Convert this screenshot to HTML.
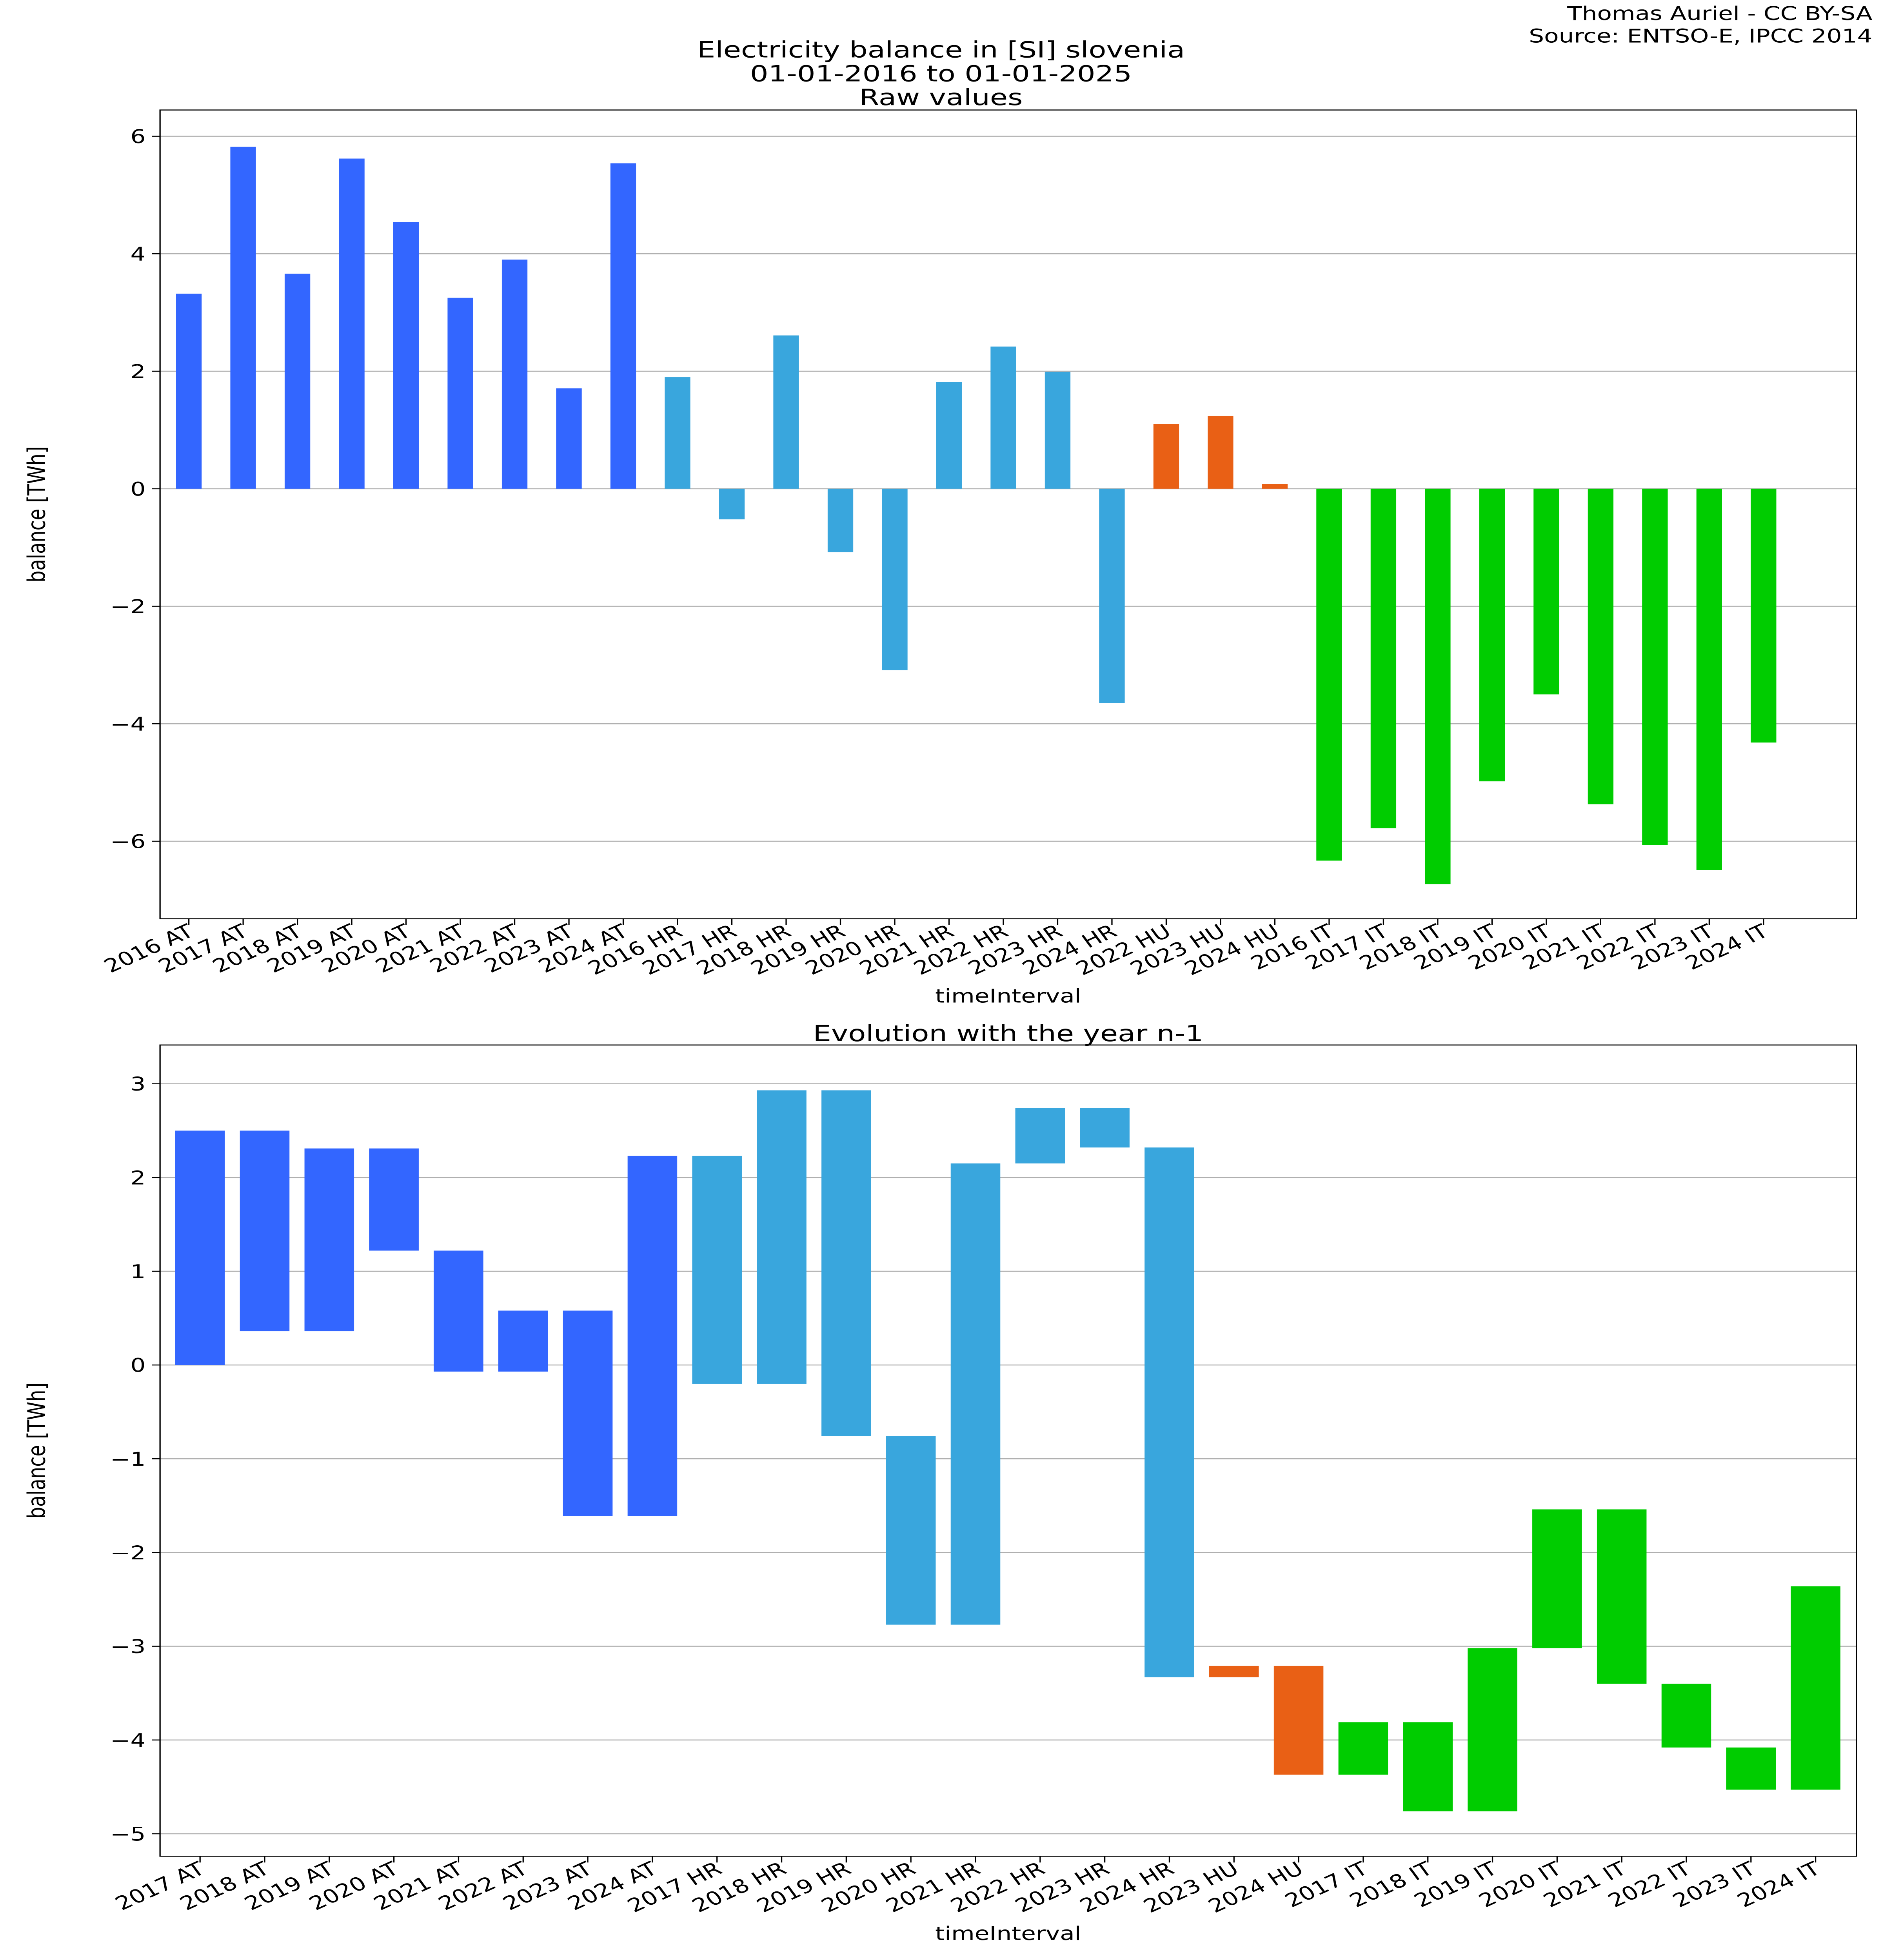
<!DOCTYPE html>
<html><head><meta charset="utf-8"><style>
html,body{margin:0;padding:0;background:#fff;width:100vw;height:100vh;overflow:hidden;}
svg{display:block;width:100vw;height:100vh;font-family:"DejaVu Sans","Liberation Sans",sans-serif;}
</style></head><body>
<svg id="chart" viewBox="0 0 1176 1568" preserveAspectRatio="none" xmlns="http://www.w3.org/2000/svg">
<rect width="1176" height="1568" fill="#fff"/>
<text x="1170" y="16" text-anchor="end" font-size="15">Thomas Auriel - CC BY-SA</text>
<text x="1170" y="34" text-anchor="end" font-size="15">Source: ENTSO-E, IPCC 2014</text>
<text x="588" y="46" text-anchor="middle" font-size="18">Electricity balance in [SI] slovenia</text>
<text x="588" y="65" text-anchor="middle" font-size="18">01-01-2016 to 01-01-2025</text>
<text x="588" y="84" text-anchor="middle" font-size="18">Raw values</text>
<text x="630" y="833" text-anchor="middle" font-size="18">Evolution with the year n-1</text>
<g id="top"></g>
<g id="bottom"></g>
</svg>
<script>
const topCategories=["2016 AT","2017 AT","2018 AT","2019 AT","2020 AT","2021 AT","2022 AT","2023 AT","2024 AT","2016 HR","2017 HR","2018 HR","2019 HR","2020 HR","2021 HR","2022 HR","2023 HR","2024 HR","2022 HU","2023 HU","2024 HU","2016 IT","2017 IT","2018 IT","2019 IT","2020 IT","2021 IT","2022 IT","2023 IT","2024 IT"];
const topValues=[3.32,5.82,3.66,5.62,4.54,3.25,3.90,1.71,5.54,1.90,-0.52,2.61,-1.08,-3.09,1.82,2.42,1.99,-3.65,1.10,1.24,0.08,-6.33,-5.78,-6.73,-4.98,-3.50,-5.37,-6.06,-6.49,-4.32];
const topTicks=[-6,-4,-2,0,2,4,6];
const botCategories=["2017 AT","2018 AT","2019 AT","2020 AT","2021 AT","2022 AT","2023 AT","2024 AT","2017 HR","2018 HR","2019 HR","2020 HR","2021 HR","2022 HR","2023 HR","2024 HR","2023 HU","2024 HU","2017 IT","2018 IT","2019 IT","2020 IT","2021 IT","2022 IT","2023 IT","2024 IT"];
const botStart=[0,0.36,0.36,1.22,-0.07,-0.07,-1.61,-1.61,-0.2,-0.2,-0.76,-2.77,-2.77,2.15,2.32,-3.33,-3.33,-4.37,-4.37,-4.76,-4.76,-3.02,-3.40,-4.08,-4.53,-4.53];
const botEnd=[2.5,2.5,2.31,2.31,1.22,0.58,0.58,2.23,2.23,2.93,2.93,-0.76,2.15,2.74,2.74,2.32,-3.21,-3.21,-3.81,-3.81,-3.02,-1.54,-1.54,-3.40,-4.08,-2.36];
const botTicks=[-5,-4,-3,-2,-1,0,1,2,3];
const colors={AT:"#3366ff",HR:"#39a6dd",HU:"#e96015",IT:"#00cc00"};
const NS="http://www.w3.org/2000/svg";
function mk(p,t,a){const e=document.createElementNS(NS,t);for(const k in a)e.setAttribute(k,a[k]);p.appendChild(e);return e;}
function panel(g,cfg){
  const {L,R,T,B,y0,k,x0,dx,bw,cats,ticks,lo,hi,name}=cfg;
  const yS=v=>y0-v*k, xS=i=>x0+i*dx;
  ticks.forEach(t=>{
    const gl=mk(g,'line',{x1:L,x2:R,y1:yS(t),y2:yS(t),stroke:'#b0b0b0','stroke-width':0.8});
    
    
    mk(g,'line',{x1:L-5,x2:L,y1:yS(t),y2:yS(t),stroke:'#000','stroke-width':0.8});
    const tl=mk(g,'text',{x:L-9,y:yS(t)+5.5,'text-anchor':'end','font-size':15});
    tl.textContent=(t<0?'\u2212'+(-t):t);
    
    
  });
  cats.forEach((c,i)=>{
    const a=Math.max(lo[i],hi[i]),b=Math.min(lo[i],hi[i]);
    const r=mk(g,'rect',{x:xS(i)-bw/2,y:yS(a),width:bw,height:Math.max(yS(b)-yS(a),0.5),fill:colors[c.split(' ')[1]]});
    
    
    mk(g,'line',{x1:xS(i),x2:xS(i),y1:B,y2:B+5,stroke:'#000','stroke-width':0.8});
    const t=mk(g,'text',{transform:`translate(${xS(i)+4},${B+13}) rotate(-30)`,'text-anchor':'end','font-size':15});
    t.textContent=c;
    
    
  });
  const fr=mk(g,'rect',{x:L,y:T,width:R-L,height:B-T,fill:'none',stroke:'#000','stroke-width':0.8});
  
  
  const yl=mk(g,'text',{transform:`translate(28,${(T+B)/2}) rotate(-90)`,'text-anchor':'middle','font-size':15});
  yl.textContent='balance [TWh]';
  
  
  const xl=mk(g,'text',{x:(L+R)/2,y:B+67,'text-anchor':'middle','font-size':15});
  xl.textContent='timeInterval';
  
  
}
panel(document.getElementById('top'),{L:100,R:1160,T:88,B:735,y0:391,k:47,x0:118,dx:33.93,bw:16,cats:topCategories,ticks:topTicks,lo:topCategories.map(()=>0),hi:topValues,name:'top'});
panel(document.getElementById('bottom'),{L:100,R:1160,T:836,B:1485,y0:1092,k:75,x0:125,dx:40.38,bw:31,cats:botCategories,ticks:botTicks,lo:botStart,hi:botEnd,name:'bottom'});
</script>
</body></html>
